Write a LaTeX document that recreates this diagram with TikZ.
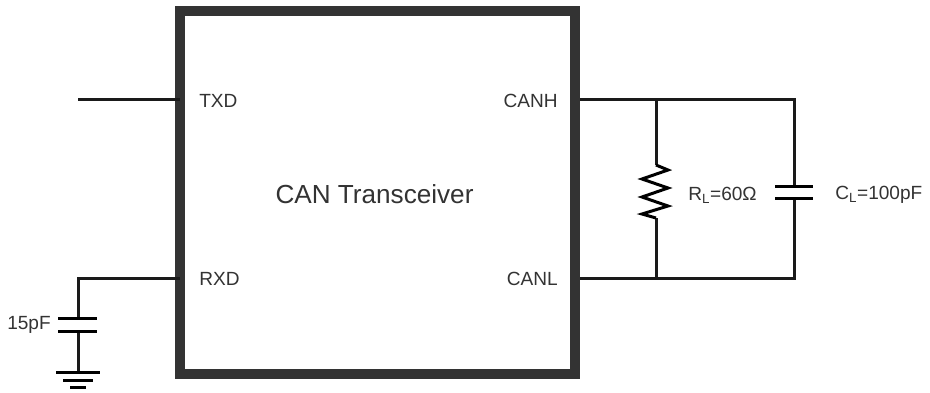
\documentclass[tikz,border=0pt]{standalone}
\usepackage{xcolor}
\usepackage{fontspec}
\setmainfont{Liberation Sans}
\definecolor{boxgray}{HTML}{333333}
\definecolor{wireblack}{HTML}{1A1A1A}
\tikzset{
  wire/.style={draw=wireblack,line width=2.25pt,line join=miter},
  plate/.style={draw=black,line width=2.25pt},
  pinlabel/.style={text=boxgray,font=\fontsize{14.3pt}{16pt}\selectfont,inner sep=0pt},
  chiplabel/.style={text=boxgray,font=\fontsize{19.6pt}{24pt}\selectfont,inner sep=0pt},
  chipbox/.style={draw=boxgray,line width=7.5pt,minimum width=296.25pt,minimum height=271.9pt,inner sep=0pt}
}
\begin{document}
\begin{tikzpicture}[x=0.75pt,y=0.75pt,yscale=-1,xscale=1]
\useasboundingbox (0,0) rectangle (930,392);

%Shape: Rectangle
\node [chipbox] (chip) at (377.5,192.75) {};

%Named points
\coordinate (txdend) at (78,100);
\coordinate (rxdcorner) at (78,278);
\coordinate (txdpin) at ([xshift=3.75pt]chip.west |- txdend);
\coordinate (rxdpin) at ([xshift=3.75pt]chip.west |- rxdcorner);
\coordinate (canhpin) at (chip.east |- txdend);
\coordinate (canlpin) at (chip.east |- rxdcorner);
\coordinate (canhtap) at (656,100);
\coordinate (canltap) at (656,278);
\coordinate (canhcorner) at (794,100);
\coordinate (canlcorner) at (794,278);
\coordinate (rtop) at (656,165);
\coordinate (rbot) at (656,218);
\coordinate (cltop) at (794,186);
\coordinate (clbot) at (794,198);
\coordinate (rxctop) at (78,318);
\coordinate (rxcbot) at (78,331);
\coordinate (gnd) at (78,372);

%Straight Lines
\draw [wire] (txdend) -- (txdpin);
\draw [wire] (rxdpin) -- (rxdcorner) -- (rxctop);
\draw [wire] (rxcbot) -- (gnd);
\draw [wire] (canhpin) -- (canhcorner) -- (cltop);
\draw [wire] (canlpin) -- (canlcorner) -- (clbot);
\draw [wire] (canhtap) -- (rtop);
\draw [wire] (canltap) -- (rbot);

%Resistor
\draw [plate] (rtop) -- (668,170) -- (642,179) -- (668,188) -- (642,197) -- (668,206) -- (642,214) -- (rbot);

%Capacitors
\draw [plate] (775,186) -- (813,186);
\draw [plate] (775,198) -- (813,198);
\draw [plate] (58,318) -- (97,318);
\draw [plate] (58,331) -- (97,331);

%Ground
\draw [plate] (56,372) -- (100,372);
\draw [plate] (63,380) -- (93,380);
\draw [plate] (70,387) -- (86,387);

% Text Node
\node [chiplabel] (title) at (374.5,194.5) {CAN Transceiver};
\node [pinlabel,anchor=west] (txd) at (199,101) {TXD};
\node [pinlabel,anchor=west] (rxd) at (199,279) {RXD};
\node [pinlabel,anchor=east] (canh) at (558,101) {CANH};
\node [pinlabel,anchor=east] (canl) at (558,279) {CANL};
\node [pinlabel,anchor=west] (rl) at (688,195) {R\textsubscript{L}=60Ω};
\node [pinlabel,anchor=west] (cl) at (835,195) {C\textsubscript{L}=100pF};
\node [pinlabel,anchor=east] (cap) at (51,325) {15pF};

\end{tikzpicture}
\end{document}
